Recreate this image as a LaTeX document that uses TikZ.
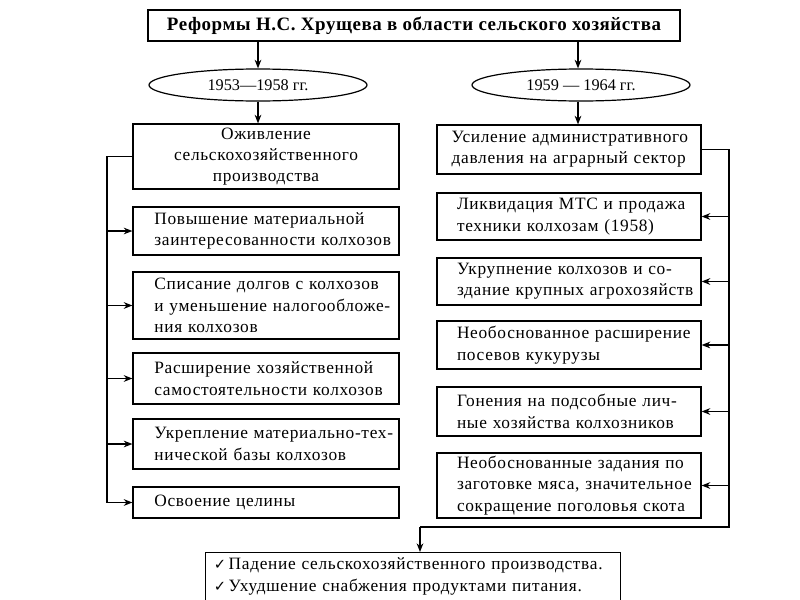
\documentclass[tikz,border=0pt]{standalone}
\usepackage{fontspec}
\setmainfont{Liberation Serif}
\newfontfamily\symfont{DejaVu Sans}
\usetikzlibrary{arrows.meta,shapes.geometric}
\newcommand{\chk}{{\symfont\fontsize{11}{16}\selectfont ✓}\hspace{2pt}}
\begin{document}
\begin{tikzpicture}[x=0.75pt,y=-0.75pt,
  line width=0.9pt,
  bodyfont/.style={font=\addfontfeature{LetterSpace=4}\fontsize{13}{16}\selectfont},
  box/.style={draw, rectangle, inner xsep=0pt, inner ysep=0pt, bodyfont},
  lbox/.style={box, text width=199.5pt, align=left, execute at begin node=\leftskip16pt\relax},
  cbox/.style={box, text width=199.5pt, align=center},
  rbox/.style={box, text width=198pt, align=left, execute at begin node=\leftskip15pt\relax},
  rboxa/.style={box, text width=198pt, align=left, execute at begin node=\leftskip11pt\relax},
  titlebox/.style={draw, rectangle, minimum width=399pt, minimum height=23.25pt, inner sep=0pt,
    font=\addfontfeature{LetterSpace=3}\fontsize{14.2}{16}\selectfont\bfseries},
  period/.style={draw, ellipse, minimum width=163.5pt, minimum height=24pt, inner sep=0pt,
    font=\fontsize{12.2}{16}\selectfont},
  arr/.style={-{Stealth[length=6.5pt,width=5pt]}},
  conn/.style={line width=0.9pt}
]
\useasboundingbox (0,0) rectangle (800,600);
\clip (0,0) rectangle (800,600);

\node[titlebox] (t) at (414,25.5) {Реформы Н.С. Хрущева в области сельского хозяйства};
\node[period] (e1) at (258,85) {1953—1958 гг.};
\node[period] (e2) at (581,85) {1959 — 1964 гг.};

\node[cbox, minimum height=48.75pt] (l1) at (266,156.5) {Оживление\\сельскохозяйственного\\производства};
\node[lbox, minimum height=36pt] (l2) at (266,231) {Повышение материальной\\заинтересованности колхозов};
\node[lbox, minimum height=50.25pt] (l3) at (266,305.5) {Списание долгов с колхозов\\и уменьшение налогообложе-\\ния колхозов};
\node[lbox, minimum height=38.25pt] (l4) at (266,378.5) {Расширение хозяйственной\\самостоятельности колхозов};
\node[lbox, minimum height=37.5pt] (l5) at (266,444) {Укрепление материально-тех-\\нической базы колхозов};
\node[lbox, minimum height=23.25pt] (l6) at (266,502.5) {Освоение целины};

\node[rboxa, minimum height=36.75pt] (r1) at (569,149.5) {Усиление административного\\давления на аграрный сектор};
\node[rbox, minimum height=35.25pt] (r2) at (569,216.5) {Ликвидация МТС и продажа\\техники колхозам (1958)};
\node[rbox, minimum height=35.25pt] (r3) at (569,281.5) {Укрупнение колхозов и со-\\здание крупных агрохозяйств};
\node[rbox, minimum height=36pt] (r4) at (569,345) {Необоснованное расширение\\посевов кукурузы};
\node[rbox, minimum height=36.75pt] (r5) at (569,411.5) {Гонения на подсобные лич-\\ные хозяйства колхозников};
\node[rbox, minimum height=48.75pt] (r6) at (569,485.5) {Необоснованные задания по\\заготовке мяса, значительное\\сокращение поголовья скота};

\node[draw, rectangle, anchor=north west, minimum width=311.25pt,
  inner xsep=6pt, inner ysep=4pt, text width=299pt, align=left, bodyfont] (res) at (205,552)
  {\chk Падение сельскохозяйственного производства.\\
   \chk Ухудшение снабжения продуктами питания.\\
   \strut};

\coordinate (lline) at (107,0);
\coordinate (rline) at (729,0);
\coordinate (turn) at (729,527);
\coordinate (down) at (420,527);

\draw[arr] (e1.north |- t.south) -- (e1.north);
\draw[arr] (578,0 |- t.south) -- (578,0 |- e2.north);
\draw[arr] (e1.south) -- (e1.south |- l1.north);
\draw[arr] (578,0 |- e2.south) -- (578,0 |- r1.north);

\draw[conn] (l1.west) -| (lline |- l6.west);
\foreach \b in {l2,l3,l4,l5,l6} \draw[arr] (lline |- \b.west) -- (\b.west);

\draw[conn] (r1.east) -| (turn) -- (down);
\foreach \b in {r2,r3,r4,r5,r6} \draw[arr] (rline |- \b.east) -- (\b.east);
\draw[arr] (down) -- (down |- res.north);
\end{tikzpicture}
\end{document}
